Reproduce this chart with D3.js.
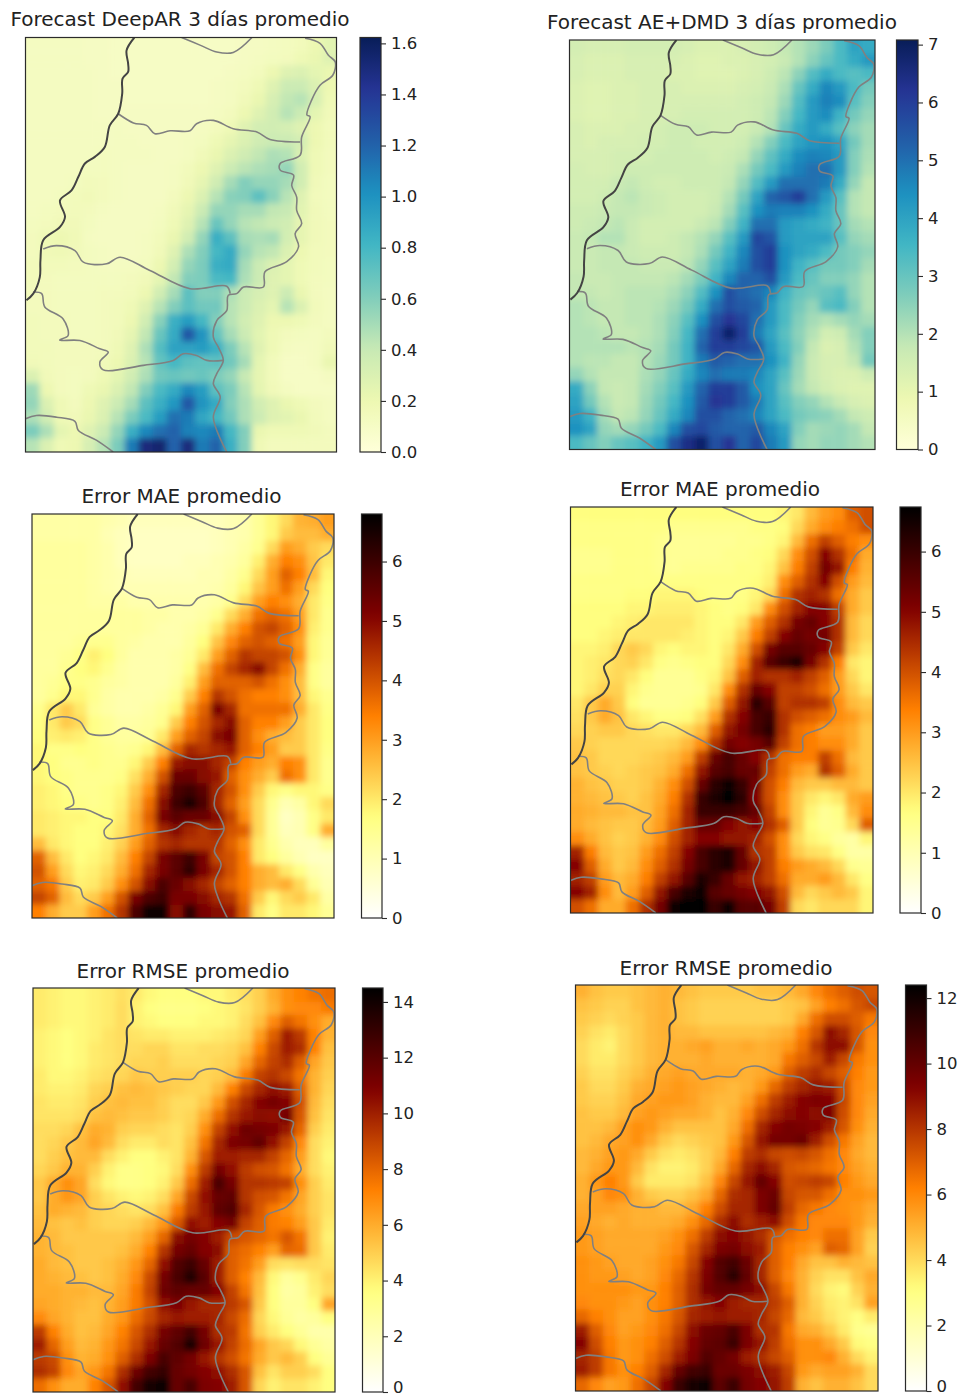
<!DOCTYPE html>
<html>
<head>
<meta charset="utf-8">
<script src="https://cdn.jsdelivr.net/npm/d3@7"></script>
<style>
  html, body { margin: 0; padding: 0; background: #fff; }
  svg { display: block; font-family: "DejaVu Sans", sans-serif; }
  .tick text { fill: #222; }
</style>
</head>
<body>
<svg id="chart" width="961" height="1398"></svg>
<script>
// ── Field values on a 22 x 30 grid ───────────────────────────────────────────
// deepAR is in hundredths, the others in tenths

const deepAR = [
  [12,12,12,12,11,11,10,10,10,10,10,10,10,10,10,11,11,12,13,15,20,26],
  [12,12,12,12,11,11,10,10,10,10,10,10,10,10,10,11,12,13,14,18,22,28],
  [12,12,12,12,12,11,10,10,10,10,10,10,10,10,11,12,14,20,28,30,25,22],
  [12,12,12,12,12,11,11,10,10,10,10,10,10,11,12,14,18,28,38,38,30,20],
  [12,12,12,12,12,11,11,10,10,10,10,10,10,11,12,16,22,32,42,45,32,18],
  [12,12,12,12,12,11,11,11,11,11,11,11,11,12,14,20,28,35,45,38,25,16],
  [12,12,12,12,12,12,12,11,11,11,11,11,12,14,18,28,34,35,33,28,20,15],
  [12,12,12,12,12,12,12,12,11,11,11,12,13,18,24,30,36,38,38,34,20,15],
  [12,12,12,12,12,13,12,12,12,11,11,12,16,22,30,36,42,48,46,30,18,14],
  [12,12,12,12,13,13,12,11,11,11,12,15,20,28,38,44,48,50,55,35,18,14],
  [12,12,12,13,15,14,12,11,11,11,12,16,24,36,50,60,55,55,50,35,16,13],
  [12,12,13,15,16,14,12,11,11,11,14,20,30,45,58,60,72,58,45,28,15,13],
  [12,13,14,15,14,12,11,11,11,12,16,24,38,55,55,50,50,42,40,26,16,13],
  [13,14,16,16,13,11,11,11,11,13,18,28,45,68,55,45,42,38,35,24,16,14],
  [14,18,20,17,12,11,11,11,12,15,22,35,55,85,72,50,48,50,34,24,16,14],
  [14,17,18,16,13,12,11,11,12,16,28,48,60,80,88,55,45,42,30,20,15,14],
  [15,15,15,14,13,12,12,12,13,20,34,55,62,85,88,50,38,30,25,18,15,13],
  [15,14,13,13,13,13,13,14,16,25,42,60,62,78,80,48,38,28,25,18,14,13],
  [14,14,13,13,13,14,14,15,20,35,50,72,60,60,48,38,32,28,38,22,14,12],
  [14,14,13,13,13,14,15,18,28,45,60,72,65,65,45,38,30,25,45,30,15,12],
  [15,14,14,13,13,14,15,20,35,58,85,95,80,60,45,35,28,20,20,18,14,12],
  [15,14,14,13,13,14,16,24,42,68,88,125,100,70,50,38,26,18,14,13,12,14],
  [15,15,14,14,14,14,18,28,48,75,92,92,95,85,62,45,28,18,12,11,12,16],
  [16,15,14,14,14,16,20,30,45,70,80,72,70,72,65,50,25,15,10,10,12,22],
  [30,16,14,13,14,18,25,35,48,65,68,65,68,62,55,40,24,15,10,10,10,12],
  [52,20,14,13,18,22,30,42,60,78,88,105,95,72,62,45,25,16,12,10,10,10],
  [55,30,18,14,20,28,38,50,72,85,98,125,100,88,60,48,35,28,22,18,14,12],
  [48,35,18,16,22,30,45,62,78,95,115,110,90,80,65,48,38,28,26,22,15,12],
  [62,48,25,20,28,38,55,85,105,115,120,108,105,110,80,60,22,18,18,18,16,14],
  [45,30,18,20,32,45,62,110,150,155,120,150,110,120,85,60,18,14,14,14,14,14]
];

const aeDmd = [
  [15,14,14,14,15,15,15,15,14,13,13,13,14,15,16,18,20,23,27,34,40,38],
  [14,13,13,13,14,14,14,14,13,12,12,13,13,14,15,17,20,25,30,34,38,42],
  [14,13,13,13,14,14,14,13,13,12,12,12,13,14,16,19,25,33,38,34,32,34],
  [13,12,12,13,13,14,14,14,13,13,13,13,14,15,17,21,30,38,46,42,34,28],
  [13,12,12,13,13,14,14,14,14,14,14,14,15,16,18,23,33,42,47,45,32,26],
  [13,12,12,13,13,14,14,14,15,15,15,15,15,16,19,26,35,42,45,36,28,24],
  [14,13,13,13,14,14,15,16,16,16,15,15,15,17,20,30,38,42,38,32,25,22],
  [14,13,14,14,14,15,15,16,16,15,15,15,16,20,26,34,40,43,44,40,28,22],
  [14,14,14,15,15,15,16,16,16,16,15,16,18,24,31,38,45,47,46,42,26,21],
  [15,14,14,15,16,16,16,16,16,16,16,17,21,28,34,42,47,50,50,42,26,20],
  [15,15,15,17,18,16,15,15,16,16,16,18,24,33,42,50,50,50,48,38,24,18],
  [15,15,16,18,19,17,16,15,15,15,16,20,28,40,52,55,60,50,42,32,20,18],
  [16,16,17,18,18,17,16,15,15,15,17,22,32,44,48,47,47,44,38,30,20,18],
  [16,17,18,19,17,15,15,15,15,17,19,26,36,50,50,42,40,38,36,30,22,20],
  [17,18,20,20,17,15,15,16,18,20,24,32,42,58,55,42,40,40,40,32,24,22],
  [17,17,18,18,17,16,16,16,18,21,28,36,46,56,60,44,40,38,34,28,26,24],
  [17,17,18,18,18,17,17,17,19,24,32,40,48,56,60,44,36,32,28,28,26,22],
  [18,17,17,18,18,18,18,19,22,27,36,46,52,52,56,42,34,30,26,26,24,20],
  [18,18,17,18,19,19,19,21,25,33,44,56,52,50,46,36,30,28,30,32,24,20],
  [20,19,18,18,19,19,20,23,28,38,50,56,54,52,42,34,28,24,32,34,26,20],
  [20,19,18,18,19,19,21,25,32,44,56,62,58,50,42,34,26,22,20,22,24,22],
  [20,20,19,18,18,19,21,26,35,50,60,68,60,48,40,32,25,20,15,16,22,26],
  [20,20,20,20,19,20,22,28,36,52,60,60,58,55,42,34,26,18,13,14,20,26],
  [20,19,19,18,18,20,23,28,36,48,54,52,50,50,44,36,24,17,14,14,18,28],
  [24,20,18,18,18,21,24,30,38,46,50,48,48,46,40,32,23,17,14,13,13,16],
  [38,25,18,17,18,22,26,32,42,52,60,60,54,44,40,30,22,18,15,13,12,12],
  [40,28,20,17,18,23,28,35,44,54,62,60,54,48,40,32,26,24,20,17,14,13],
  [42,36,22,18,19,24,30,38,46,56,56,52,50,46,40,34,28,26,25,22,18,16],
  [44,40,24,22,24,28,34,46,56,58,54,52,52,54,46,40,26,22,23,24,22,18],
  [34,30,26,30,32,36,42,56,64,68,56,62,52,58,48,42,24,22,24,24,22,20]
];

const maeDeepAR = [
  [12,12,12,12,12,11,10,9,9,9,9,9,9,9,10,11,14,18,22,27,28,30],
  [12,12,12,12,12,10,9,8,8,8,8,8,8,9,10,11,14,18,24,26,26,28],
  [13,13,13,13,12,11,9,8,8,8,8,8,8,9,10,12,15,22,30,28,24,22],
  [13,13,13,13,12,11,9,8,8,8,8,9,9,10,11,13,19,28,34,32,25,20],
  [13,13,13,13,12,11,10,9,9,9,9,9,10,10,12,15,22,30,38,34,26,18],
  [13,13,13,13,12,11,10,10,10,10,10,10,10,11,13,18,25,30,36,30,22,17],
  [13,13,13,13,12,12,12,11,11,11,11,11,11,12,15,22,30,34,32,28,20,16],
  [13,13,13,13,13,13,13,13,12,12,11,11,12,15,22,28,36,38,36,30,20,15],
  [13,13,13,13,13,13,13,13,12,11,11,12,14,20,28,34,40,42,38,32,19,15],
  [13,13,13,14,15,15,13,12,11,11,11,13,17,25,33,38,40,38,36,30,18,14],
  [13,13,14,16,19,17,13,11,11,11,12,14,20,30,38,44,42,42,40,32,18,14],
  [13,13,15,17,18,15,12,11,11,11,12,16,26,36,42,46,50,42,36,28,16,13],
  [13,14,16,16,15,13,12,11,11,11,13,19,30,38,38,38,40,36,32,26,16,13],
  [13,15,18,18,15,12,11,11,11,12,15,24,34,44,40,36,34,34,32,26,18,15],
  [15,20,24,20,14,12,11,11,12,14,18,30,38,52,46,36,36,36,36,28,20,16],
  [16,20,24,22,16,14,12,12,13,15,24,34,40,46,50,38,34,34,30,24,20,17],
  [17,19,20,19,16,14,13,13,14,20,30,38,42,50,52,38,32,28,26,24,20,17],
  [18,16,16,17,16,15,14,15,18,26,38,46,44,46,48,38,34,30,24,24,20,16],
  [18,17,15,15,16,15,15,18,24,34,48,50,50,46,42,34,30,28,34,32,20,15],
  [18,17,16,15,15,15,16,21,28,40,54,54,50,48,38,32,28,24,36,32,20,15],
  [19,18,16,15,15,16,18,24,32,46,58,60,56,46,40,32,24,18,16,18,18,16],
  [19,18,17,16,15,16,19,26,36,50,60,64,58,46,38,30,22,15,10,12,18,22],
  [20,19,18,18,17,17,20,28,38,52,56,54,54,50,42,32,22,14,8,10,16,20],
  [20,19,18,17,17,18,21,28,36,46,50,46,44,46,40,38,22,14,9,10,16,28],
  [26,20,18,17,17,19,23,30,38,44,46,44,44,44,38,32,20,15,11,9,9,13],
  [38,26,20,17,18,20,26,34,42,52,56,60,52,42,40,34,20,17,13,10,8,8],
  [40,30,22,18,19,22,28,36,46,52,56,62,52,46,40,34,28,26,20,16,11,9],
  [38,35,24,19,20,24,32,40,50,58,54,50,46,42,38,34,28,26,28,22,14,10],
  [42,38,26,22,24,30,40,52,58,60,52,52,50,46,44,36,24,18,22,24,20,12],
  [34,28,24,24,30,36,44,58,66,66,50,62,52,50,48,38,20,16,20,20,18,14]
];

const maeAeDmd = [
  [17,17,17,17,17,17,17,17,17,17,17,17,17,17,17,18,20,26,30,32,38,40],
  [16,16,16,16,16,16,16,15,15,15,15,15,15,16,16,17,22,28,32,34,36,40],
  [16,16,16,16,16,16,15,14,14,14,14,14,15,15,16,18,26,36,42,38,34,32],
  [15,15,15,16,16,16,15,14,14,14,14,15,15,16,17,22,32,40,50,44,36,28],
  [15,15,15,16,16,16,15,14,15,15,15,15,16,16,18,25,34,42,52,48,34,27],
  [16,16,16,16,16,16,16,16,16,16,16,16,16,17,19,32,38,44,50,40,30,26],
  [16,16,16,16,17,17,18,18,18,17,16,16,16,18,22,36,44,46,44,36,28,24],
  [17,17,17,17,18,18,19,19,19,18,17,16,17,20,32,40,46,50,50,42,28,24],
  [17,17,17,18,19,20,20,20,20,18,17,17,20,30,38,44,52,54,50,44,26,22],
  [17,17,18,19,20,20,20,20,19,18,17,18,24,34,42,50,54,52,52,44,26,22],
  [18,18,19,22,24,22,18,17,18,18,17,20,28,40,52,56,56,54,50,42,24,20],
  [18,19,20,22,23,20,16,15,16,17,17,22,32,46,56,60,64,52,44,34,20,18],
  [18,19,21,22,20,17,14,14,14,16,18,25,38,46,44,44,46,42,38,30,22,18],
  [18,20,23,23,18,15,14,14,14,15,20,32,44,54,50,42,42,40,36,30,24,20],
  [20,24,28,24,17,14,14,14,15,17,24,38,48,62,56,42,44,44,42,32,26,24],
  [21,24,28,25,20,18,16,16,17,21,30,44,50,58,60,44,40,38,36,32,30,26],
  [22,23,24,24,22,21,20,20,22,26,38,48,52,58,62,44,36,34,30,30,28,24],
  [24,23,22,22,22,22,22,23,26,32,44,52,50,52,56,42,36,34,32,32,28,24],
  [25,24,22,22,22,23,24,26,30,42,54,58,54,50,44,36,34,34,42,36,26,24],
  [25,24,23,22,23,24,25,28,36,48,56,58,54,54,42,36,30,28,44,38,28,24],
  [27,25,24,23,23,24,27,32,40,54,62,66,60,52,40,34,26,24,24,26,26,24],
  [27,26,25,24,23,25,28,34,44,60,64,67,62,50,40,32,24,20,18,20,28,30],
  [28,27,26,26,25,25,29,36,46,60,60,60,58,54,42,32,24,18,14,16,26,32],
  [28,26,25,24,24,26,30,38,46,54,54,50,48,50,44,38,24,17,14,15,22,38],
  [32,28,25,23,24,27,32,40,46,50,50,48,48,46,40,32,22,18,16,13,12,18],
  [46,34,26,24,25,30,36,42,50,58,62,64,54,44,42,32,24,21,20,16,12,12],
  [50,38,28,24,26,32,38,44,52,58,62,64,54,48,42,34,30,28,26,22,15,14],
  [46,42,30,26,28,34,42,48,56,64,60,54,48,46,42,36,28,28,30,26,20,16],
  [50,46,32,26,30,38,48,58,64,66,56,54,52,50,48,40,26,22,24,26,24,18],
  [40,36,28,28,36,44,52,66,67,67,60,66,56,56,52,42,22,20,22,22,22,18]
];

const rmseDeepAR = [
  [42,40,38,38,40,42,45,42,38,36,36,36,38,38,42,45,50,60,68,72,76,78],
  [42,40,38,38,40,42,46,40,36,34,34,34,36,38,40,44,50,58,68,70,70,74],
  [42,40,38,38,40,42,46,40,38,36,36,36,38,38,40,46,54,70,82,76,68,60],
  [40,38,36,38,40,44,46,44,42,42,40,40,40,42,44,48,64,82,100,92,72,58],
  [40,38,36,38,42,44,46,46,48,48,44,44,46,46,48,54,72,88,100,96,72,54],
  [40,38,36,38,42,44,46,48,48,50,46,46,46,48,50,62,80,90,96,82,62,52],
  [42,38,38,40,44,46,48,52,50,50,50,50,48,50,56,74,90,94,88,76,58,50],
  [42,40,40,42,48,50,54,56,54,52,50,48,48,56,72,88,98,104,100,82,58,48],
  [44,42,42,44,50,54,56,54,54,50,46,46,52,66,86,98,108,112,108,86,56,46],
  [44,44,44,46,54,56,54,52,52,50,46,48,60,78,94,102,106,104,112,84,54,44],
  [46,46,48,54,60,58,50,48,48,46,44,50,68,90,104,114,112,110,102,80,50,42],
  [46,48,52,56,62,56,46,42,42,46,44,54,76,98,110,112,118,104,90,70,46,40],
  [46,50,54,56,56,46,40,36,36,40,44,58,84,100,100,98,98,90,80,64,46,38],
  [48,52,58,58,50,40,34,34,36,38,46,68,92,112,104,92,86,84,76,60,46,40],
  [52,60,68,62,46,38,34,34,36,40,52,78,100,124,112,94,94,92,90,68,50,42],
  [52,60,66,62,50,44,40,38,40,46,62,88,104,116,118,94,86,84,76,62,50,44],
  [54,60,58,56,50,48,46,44,46,54,74,92,102,118,122,98,84,74,68,60,50,44],
  [56,54,52,54,50,48,48,50,56,66,84,104,100,108,112,90,82,74,72,64,52,42],
  [58,56,52,52,52,52,52,56,64,80,106,112,108,100,88,84,80,76,84,76,52,40],
  [58,56,54,52,52,52,54,60,72,94,112,116,108,106,82,78,72,64,80,78,52,42],
  [60,56,54,52,52,54,58,66,80,104,122,128,116,100,82,76,64,46,44,46,46,44],
  [60,58,56,54,52,54,60,70,88,112,124,136,120,100,82,72,56,38,28,32,42,48],
  [60,60,58,58,56,56,62,74,90,114,118,116,116,108,90,76,54,36,26,28,40,46],
  [62,60,58,56,54,58,64,74,86,104,110,102,98,98,92,84,52,36,28,28,36,62],
  [70,62,58,54,54,60,66,78,88,98,102,100,100,98,88,78,48,38,30,26,28,36],
  [92,72,60,54,56,62,72,84,96,112,118,126,112,96,92,76,50,42,36,30,24,24],
  [100,80,64,56,58,66,76,88,102,116,122,138,114,102,90,78,62,52,48,38,30,26],
  [92,88,68,58,60,68,82,96,110,124,118,112,102,94,86,76,60,52,56,50,36,30],
  [96,90,70,62,66,76,96,114,126,130,116,112,108,104,96,84,54,44,50,50,46,36],
  [78,68,60,60,72,84,104,126,140,142,116,124,110,108,100,84,48,40,44,44,40,36]
];

const rmseAeDmd = [
  [50,46,44,44,46,48,50,48,46,44,44,44,44,46,46,48,52,60,66,70,74,72],
  [46,44,42,42,46,48,50,46,44,42,42,42,42,42,42,44,46,54,62,66,72,76],
  [44,42,40,42,44,48,50,46,44,42,42,42,42,42,42,44,52,66,74,74,70,64],
  [42,38,36,40,44,48,50,48,48,46,46,46,46,46,48,50,62,72,90,84,72,60],
  [40,36,34,40,44,48,50,50,52,54,50,50,52,50,52,56,66,80,90,90,72,58],
  [40,36,36,40,44,48,50,50,50,52,50,50,50,50,52,64,70,76,86,76,64,58],
  [42,38,38,42,46,50,52,54,52,52,52,52,50,52,56,70,78,82,76,70,62,56],
  [44,40,40,44,50,52,54,56,54,52,50,48,50,56,68,78,84,88,86,74,60,56],
  [44,42,42,46,52,54,56,56,54,50,48,48,54,66,78,86,92,94,92,76,60,54],
  [46,44,44,48,54,56,54,52,52,50,46,50,60,74,84,90,92,90,94,74,60,52],
  [46,46,48,54,58,56,50,46,46,46,46,52,66,84,92,96,94,92,86,72,58,50],
  [46,48,52,54,58,52,44,40,42,44,46,56,72,88,96,96,98,86,74,64,54,48],
  [48,50,54,56,52,44,38,36,38,42,48,62,78,82,76,74,76,72,66,60,52,48],
  [48,52,56,56,48,38,34,34,36,42,52,68,84,90,84,72,70,68,64,60,54,50],
  [50,56,62,56,44,36,36,36,38,46,60,76,88,100,92,74,76,78,76,62,56,52],
  [50,54,60,58,50,44,42,42,46,52,68,82,84,94,98,76,72,72,66,58,58,56],
  [52,54,54,52,50,50,48,48,52,62,74,84,84,94,100,78,68,64,60,58,56,52],
  [54,52,50,52,50,50,50,52,58,68,82,90,82,86,90,74,64,60,60,60,56,50],
  [56,54,52,52,52,52,54,58,66,78,90,92,88,82,72,66,62,60,66,66,54,44],
  [56,54,52,52,52,52,56,60,72,84,94,96,90,86,70,62,58,54,70,68,54,42],
  [58,56,54,52,52,54,58,64,76,92,104,108,98,84,70,62,52,46,46,50,48,46],
  [58,56,56,54,52,54,60,68,80,94,104,114,100,84,70,60,50,42,38,38,46,52],
  [58,58,58,58,56,56,62,70,82,96,100,100,96,90,76,64,50,40,34,32,42,50],
  [60,58,58,56,54,58,62,70,82,88,92,86,84,84,78,70,50,42,36,34,38,54],
  [68,62,58,54,54,58,64,72,84,86,88,86,86,84,76,68,48,44,38,34,30,36],
  [86,70,60,54,56,60,66,76,90,98,100,106,94,82,80,64,52,50,44,36,28,26],
  [92,74,62,56,58,62,70,80,92,100,102,110,94,88,78,66,58,58,52,44,32,30],
  [84,78,64,56,58,66,74,86,94,104,100,96,86,82,76,70,58,58,60,50,40,34],
  [86,78,64,58,62,70,84,100,108,110,98,98,94,90,86,76,56,52,54,54,50,40],
  [68,60,54,56,66,76,92,110,118,120,102,110,96,92,88,78,50,46,50,50,46,40]
];

// ── Borders, in map units (0-100 across and down the frame) ──────────────────

const coastBorder = [[35,0],[32.5,3.1],[33,6.3],[33,8.3],[31.2,9.9],[31.1,13.5],[29.8,18.4],[27.1,21.2],[25.5,26.4],[22.3,28.8],[19.1,30.4],[17,33.6],[14.8,36.9],[11.1,39.3],[12.7,43.3],[11.1,45.7],[5.7,48.9],[4.8,53.8],[4.6,57.8],[2.5,61.8],[0.3,63.4]];
const topArc = [[50.2,0],[56.3,1.9],[61.5,3.5],[66.8,3.6],[72.8,0]];
const eastBorder = [[89.9,0.2],[94.7,1.4],[97.4,4.3],[99.6,5.9],[98.8,9.1],[94.7,11.5],[92,15.1],[90.5,18.7],[91.5,19.1],[88.8,24],[88.3,28.4],[81.9,30.4],[81.9,32],[86.2,33.2],[85.6,35.7],[87.2,38.5],[87.2,41.7],[88.8,44.9],[86.7,47.3],[87.8,50.5],[84,54.1],[77,56.5],[76.5,60.2],[70.1,60.2],[67.9,61.8],[65.2,62.2],[64.7,65.9],[61.5,68.3],[60.4,72.3],[62,74.7],[63.6,77.9],[61.5,81.1],[60.4,83.5],[62.6,86.7],[60.4,91.6],[64.7,100]];
const northBorder = [[29.8,18.4],[34.7,20.6],[38.9,21.2],[41.6,23.2],[46.5,22.5],[52.9,22.5],[55,20.8],[60.4,20],[66.8,22],[74.4,22.8],[78.6,24.6],[88.3,25.2]];
const midBorder = [[5.7,51],[10,50.2],[15.9,51.4],[18.6,54.2],[26.1,54.6],[30.4,53],[40,56.2],[52.9,60.6],[64.7,60],[65.8,61.8]];
const southBorder = [[2.5,61.4],[5.2,61.8],[6.2,65],[12.1,67.9],[13.7,71.9],[11,73],[17.5,73.1],[23.9,75.1],[26.6,75.9],[23.9,78.3],[25,80.2],[37.9,79.1],[47.5,77.9],[50.7,76.3],[55,76.7],[58.3,77.9],[63.6,77.9]];
const cornerBorder = [[0,92],[3.5,91.2],[10,91.6],[15.9,92.6],[17,94.8],[22.9,97.2],[28.2,100]];

const greyBorders = [topArc, eastBorder, northBorder, midBorder, southBorder, cornerBorder];

// ── Colormaps ────────────────────────────────────────────────────────────────

const ylGnBu = ['#ffffd9','#edf8b1','#c7e9b4','#7fcdbb','#41b6c4','#1d91c0','#225ea8','#253494','#081d58'];
const afmhotR = ['#ffffff','#ffff80','#ff8000','#800000','#000000'];

function ramp(colors) {
  return d3.scaleLinear()
    .domain(d3.range(colors.length).map(i => i / (colors.length - 1)))
    .range(colors)
    .interpolate(d3.interpolateRgb)
    .clamp(true);
}

// ── Panels ───────────────────────────────────────────────────────────────────

const panels = [
  { title: 'Forecast DeepAR 3 días promedio', field: deepAR, unit: 100, vmax: 1.623, ticks: [0,0.2,0.4,0.6,0.8,1,1.2,1.4,1.6], fmt: '.1f', colors: ylGnBu,
    x0: 25.5, x1: 336.5, y0: 37.5, y1: 452, bar: [360, 381], titleX: 180, titleY: 26 },
  { title: 'Forecast AE+DMD 3 días promedio', field: aeDmd, unit: 10, vmax: 7.08, ticks: d3.range(0, 8), fmt: 'd', colors: ylGnBu,
    x0: 569.5, x1: 875, y0: 40, y1: 449.5, bar: [896.5, 918], titleX: 722, titleY: 29 },
  { title: 'Error MAE promedio', field: maeDeepAR, unit: 10, vmax: 6.8, ticks: d3.range(0, 7), fmt: 'd', colors: afmhotR,
    x0: 32, x1: 334, y0: 514, y1: 918, bar: [361.5, 382], titleX: 181.5, titleY: 503 },
  { title: 'Error MAE promedio', field: maeAeDmd, unit: 10, vmax: 6.74, ticks: d3.range(0, 7), fmt: 'd', colors: afmhotR,
    x0: 570.5, x1: 873, y0: 507, y1: 913, bar: [900, 921], titleX: 720, titleY: 496 },
  { title: 'Error RMSE promedio', field: rmseDeepAR, unit: 10, vmax: 14.5, ticks: d3.range(0, 15, 2), fmt: 'd', colors: afmhotR,
    x0: 33, x1: 335, y0: 988, y1: 1392, bar: [362.5, 383], titleX: 183, titleY: 978 },
  { title: 'Error RMSE promedio', field: rmseAeDmd, unit: 10, vmax: 12.4, ticks: d3.range(0, 13, 2), fmt: 'd', colors: afmhotR,
    x0: 575.5, x1: 878, y0: 985, y1: 1391, bar: [905.5, 926.5], titleX: 726, titleY: 975 }
];

const svg = d3.select('#chart');
const defs = svg.append('defs');

// the reference is a resampled screenshot, so cell edges are soft
defs.append('filter').attr('id', 'soft')
  .attr('x', '-5%').attr('y', '-5%').attr('width', '110%').attr('height', '110%')
  .append('feGaussianBlur').attr('stdDeviation', 3);

const borderLine = d3.line().curve(d3.curveCatmullRom.alpha(0.5));

panels.forEach((p, idx) => {
  const g = svg.append('g');
  const nRows = p.field.length, nCols = p.field[0].length;
  const color = ramp(p.colors);
  const cx = d3.scaleBand().domain(d3.range(nCols)).range([p.x0, p.x1]);
  const cy = d3.scaleBand().domain(d3.range(nRows)).range([p.y0, p.y1]);
  const mx = d3.scaleLinear().domain([0, 100]).range([p.x0, p.x1]);
  const my = d3.scaleLinear().domain([0, 100]).range([p.y0, p.y1]);

  const cells = p.field.flatMap((row, r) => row.map((v, c) => ({ r, c, v: v / p.unit })));

  defs.append('clipPath').attr('id', `map-${idx}`).append('rect')
    .attr('x', p.x0).attr('y', p.y0).attr('width', p.x1 - p.x0).attr('height', p.y1 - p.y0);

  const clipped = g.append('g').attr('clip-path', `url(#map-${idx})`);
  const bleed = 14; // edge cells run past the frame so the blur doesn't fade at the border
  clipped.append('g').attr('filter', 'url(#soft)')
    .selectAll('rect').data(cells).join('rect')
    .attr('x', d => cx(d.c) - (d.c === 0 ? bleed : 0))
    .attr('y', d => cy(d.r) - (d.r === 0 ? bleed : 0))
    .attr('width', d => cx.bandwidth() + 0.6 + (d.c === 0 || d.c === nCols - 1 ? bleed : 0))
    .attr('height', d => cy.bandwidth() + 0.6 + (d.r === 0 || d.r === nRows - 1 ? bleed : 0))
    .attr('fill', d => color(d.v / p.vmax));

  borderLine.x(d => mx(d[0])).y(d => my(d[1]));

  clipped.selectAll('path.grey').data(greyBorders).join('path')
    .attr('class', 'grey')
    .attr('d', borderLine)
    .attr('fill', 'none').attr('stroke', '#808080').attr('stroke-width', 1.6);

  clipped.append('path')
    .attr('d', borderLine(coastBorder))
    .attr('fill', 'none').attr('stroke', '#444').attr('stroke-width', 2);

  g.append('rect')
    .attr('x', p.x0).attr('y', p.y0).attr('width', p.x1 - p.x0).attr('height', p.y1 - p.y0)
    .attr('fill', 'none').attr('stroke', '#2b2b2b').attr('stroke-width', 1.2);

  g.append('text')
    .attr('x', p.titleX).attr('y', p.titleY)
    .attr('text-anchor', 'middle')
    .attr('font-size', 20).attr('fill', '#222')
    .text(p.title);

  // colorbar
  const barScale = d3.scaleLinear().domain([0, p.vmax]).range([p.y1, p.y0]);
  const gradId = `bar-${idx}`;
  defs.append('linearGradient').attr('id', gradId)
    .attr('x1', 0).attr('x2', 0).attr('y1', 1).attr('y2', 0)
    .selectAll('stop').data(d3.range(0, 1.001, 0.02)).join('stop')
    .attr('offset', d => d).attr('stop-color', d => color(d));

  g.append('rect')
    .attr('x', p.bar[0]).attr('y', p.y0).attr('width', p.bar[1] - p.bar[0]).attr('height', p.y1 - p.y0)
    .attr('fill', `url(#${gradId})`).attr('stroke', '#2b2b2b').attr('stroke-width', 1.2);

  const axis = d3.axisRight(barScale)
    .tickValues(p.ticks)
    .tickFormat(d3.format(p.fmt))
    .tickSize(5).tickPadding(5).tickSizeOuter(0);

  const ax = g.append('g').attr('transform', `translate(${p.bar[1]},0)`).call(axis);
  ax.select('.domain').remove();
  ax.selectAll('.tick line').attr('stroke', '#2b2b2b').attr('stroke-width', 1.1);
  ax.selectAll('.tick text')
    .attr('font-size', 16.5).attr('font-family', '"DejaVu Sans", sans-serif')
    // the bottom row sits at the page edge, lift its zero so it isn't cut
    .attr('dy', d => (d === 0 && p.y1 > 1380 ? '0.05em' : '0.32em'));
});
</script>
</body>
</html>
